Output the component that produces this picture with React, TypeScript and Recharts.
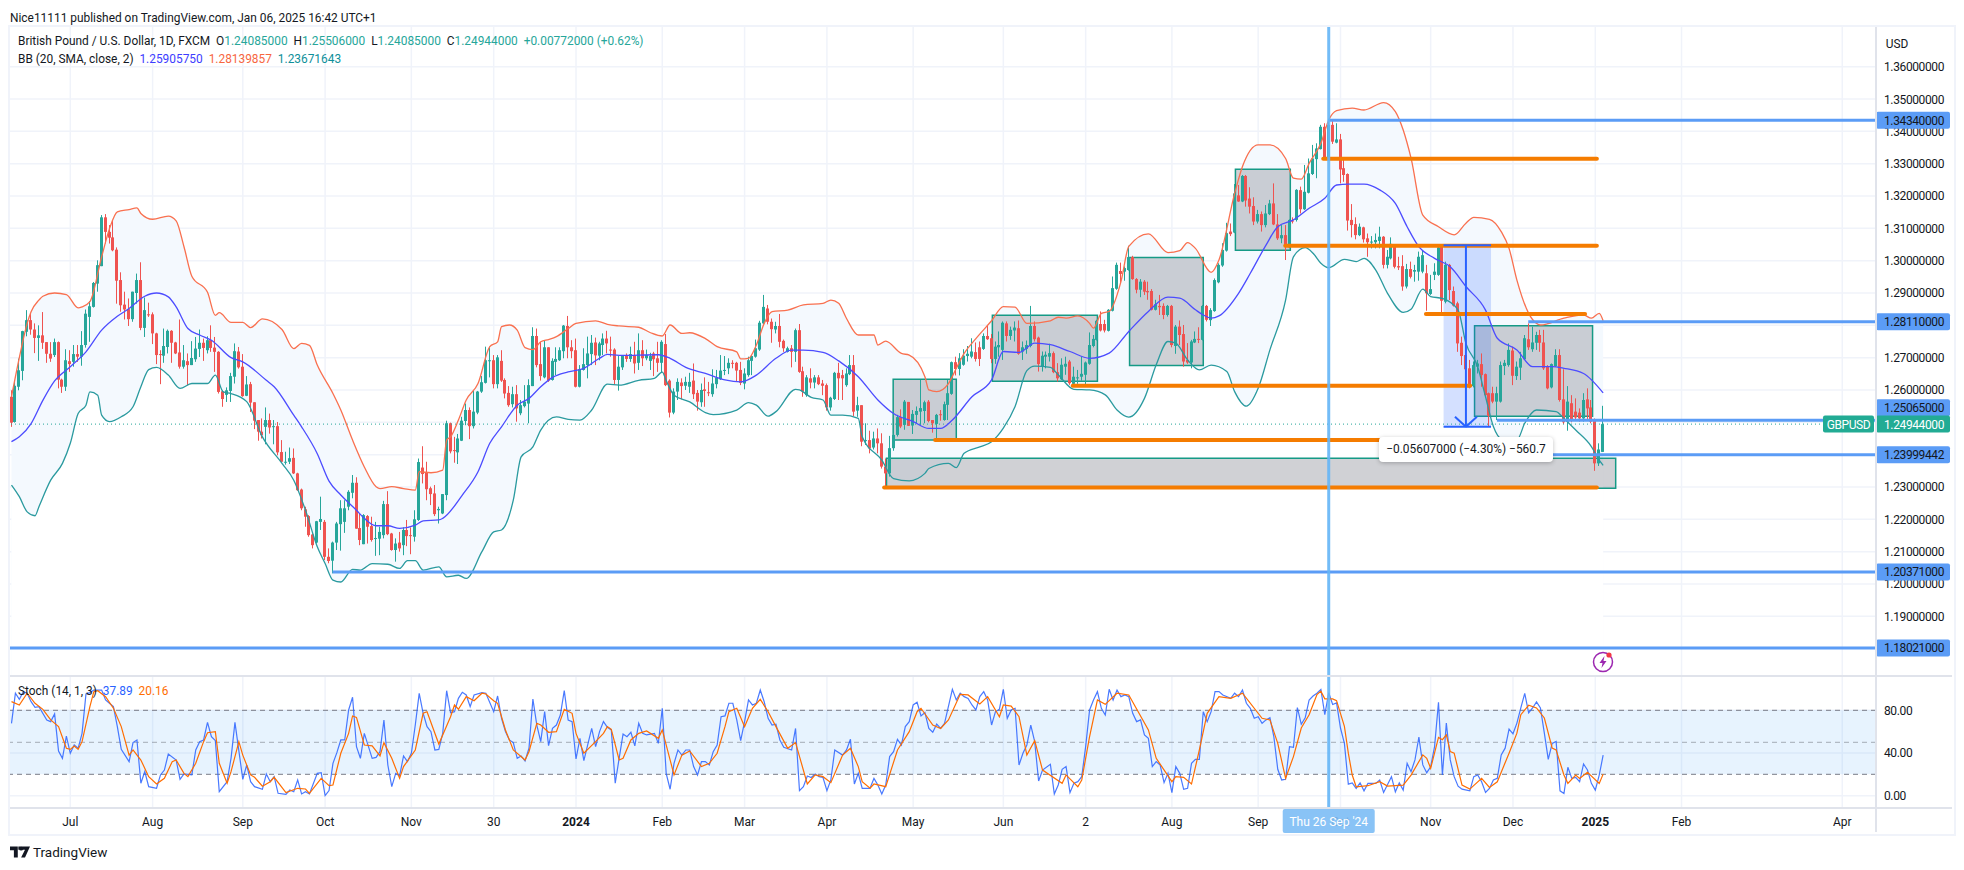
import React from 'react';
import { ComposedChart, Bar, Line, Area, XAxis, YAxis, CartesianGrid, ReferenceLine, ReferenceArea } from 'recharts';

const FONT = 'Roboto, "Noto Sans", sans-serif';
const opens = [
12579,12501,12610,12659,12780,12816,12787,12761,12769,12748,12712,12708,12748,12632,12610,12689,12687,12711,12703,12739,
12826,12857,12929,12983,13134,13089,13072,13034,12940,12864,12850,12819,12900,12940,12792,12834,12834,12775,12711,12706,
12733,12783,12747,12716,12672,12689,12677,12695,12727,12746,12723,12754,12731,12718,12596,12585,12597,12641,12719,12672,
12582,12618,12562,12507,12471,12486,12507,12486,12488,12408,12377,12378,12390,12342,12292,12231,12210,12153,12128,12192,
12192,12084,12072,12128,12185,12192,12239,12282,12313,12173,12123,12210,12179,12140,12140,12151,12247,12156,12105,12128,
12120,12167,12151,12146,12198,12360,12345,12296,12280,12228,12218,12275,12497,12414,12407,12443,12504,12538,12488,12530,
12595,12622,12690,12692,12618,12690,12631,12591,12556,12587,12528,12550,12558,12612,12767,12680,12639,12732,12631,12687,
12692,12720,12798,12732,12723,12610,12662,12677,12711,12747,12706,12739,12759,12725,12725,12631,12670,12705,12696,12708,
12684,12723,12698,12690,12713,12698,12684,12742,12629,12530,12595,12623,12613,12610,12629,12591,12562,12602,12593,12587,
12618,12633,12660,12667,12684,12684,12662,12620,12646,12690,12703,12725,12806,12852,12811,12787,12798,12752,12718,12729,
12718,12785,12658,12584,12636,12623,12639,12620,12615,12546,12572,12653,12646,12615,12649,12677,12536,12553,12443,12445,
12422,12450,12435,12363,12342,12420,12461,12516,12492,12563,12490,12523,12533,12535,12564,12507,12495,12525,12507,12554,
12588,12686,12665,12678,12705,12703,12717,12732,12727,12767,12760,12696,12732,12724,12806,12767,12784,12791,12719,12727,
12736,12798,12762,12672,12703,12703,12714,12655,12633,12672,12688,12619,12638,12641,12647,12681,12736,12755,12804,12804,
12783,12845,12913,12968,12966,12971,13011,12943,12910,12935,12906,12906,12848,12860,12860,12832,12860,12736,12796,12773,
12693,12685,12747,12758,12755,12860,12816,12844,12933,12985,13031,13090,13087,13202,13183,13262,13192,13169,13121,13144,
13110,13144,13177,13112,13069,13079,13041,13124,13126,13218,13159,13210,13268,13314,13345,13414,13316,13420,13365,13375,
13286,13268,13126,13113,13079,13103,13069,13057,13057,13061,13074,12987,13007,13043,12983,12983,12920,12974,12966,12966,
12966,12961,12897,12956,12956,13043,12873,12987,12906,12868,12746,12708,12667,12612,12672,12680,12649,12590,12590,12564,
12564,12674,12677,12722,12643,12669,12695,12757,12726,12746,12770,12747,12672,12608,12674,12708,12571,12502,12559,12533,
12530,12512,12571,12546,12509,12373,12408.5];
const highs = [
12599,12625,12697,12783,12847,12837,12806,12800,12841,12748,12748,12759,12750,12635,12726,12723,12739,12739,12782,12849,
12875,12934,13001,13141,13144,13110,13125,13041,12964,12904,12883,12904,12960,12995,12886,12870,12840,12777,12723,12790,
12787,12785,12749,12818,12739,12713,12751,12764,12787,12759,12766,12800,12764,12720,12599,12608,12653,12744,12733,12711,
12643,12625,12562,12507,12512,12546,12527,12507,12501,12445,12409,12422,12419,12344,12295,12239,12213,12156,12195,12270,
12198,12110,12131,12192,12259,12259,12290,12337,12330,12218,12216,12213,12208,12192,12177,12257,12287,12158,12141,12161,
12175,12198,12175,12228,12388,12426,12378,12301,12306,12239,12278,12505,12499,12455,12464,12517,12558,12546,12597,12597,
12643,12734,12734,12708,12708,12723,12636,12612,12610,12615,12569,12615,12633,12794,12790,12749,12754,12732,12698,12732,
12732,12801,12829,12754,12759,12677,12729,12765,12770,12762,12749,12775,12783,12765,12729,12705,12708,12713,12734,12749,
12775,12754,12725,12715,12718,12749,12754,12773,12633,12605,12636,12636,12641,12653,12682,12600,12620,12639,12625,12664,
12662,12708,12705,12698,12692,12687,12687,12667,12703,12708,12756,12814,12894,12863,12821,12811,12835,12756,12734,12739,
12790,12804,12672,12646,12667,12646,12646,12631,12620,12579,12656,12684,12662,12667,12708,12708,12579,12553,12497,12474,
12471,12481,12466,12388,12458,12466,12523,12540,12569,12563,12538,12549,12631,12567,12569,12507,12526,12538,12564,12631,
12688,12703,12714,12726,12736,12760,12747,12750,12775,12801,12773,12750,12781,12812,12812,12796,12812,12815,12750,12753,
12860,12812,12765,12719,12719,12743,12719,12683,12698,12703,12693,12672,12662,12703,12688,12778,12770,12817,12843,12817,
12850,12951,12994,12994,12982,13046,13015,12946,12943,12940,12935,12912,12879,12894,12868,12863,12863,12801,12815,12801,
12745,12755,12781,12794,12863,12863,12853,12945,12992,13054,13117,13115,13237,13234,13265,13265,13227,13196,13157,13152,
13172,13188,13239,13144,13110,13110,13128,13134,13221,13229,13296,13316,13358,13363,13420,13425,13435,13433,13425,13392,
13316,13270,13175,13134,13115,13105,13084,13076,13084,13105,13076,13033,13072,13045,13012,13017,12990,12997,12987,13028,
13033,12987,12956,12992,13045,13048,12997,12990,12920,12873,12765,12724,12693,12688,12693,12713,12651,12592,12610,12610,
12688,12693,12744,12734,12688,12718,12770,12806,12796,12780,12786,12786,12677,12682,12726,12726,12664,12612,12584,12574,
12543,12590,12605,12569,12512,12435,12551];
const lows = [
12486,12499,12599,12630,12766,12771,12714,12690,12727,12684,12687,12702,12605,12591,12597,12656,12672,12687,12675,12731,
12749,12855,12904,12983,13053,13053,13029,12867,12842,12818,12798,12811,12867,12785,12764,12826,12742,12680,12618,12684,
12713,12684,12711,12666,12666,12615,12677,12687,12702,12690,12713,12718,12656,12589,12548,12563,12563,12620,12666,12579,
12581,12532,12479,12443,12450,12432,12465,12432,12398,12377,12369,12371,12340,12288,12228,12177,12146,12110,12125,12167,
12074,12064,12033,12105,12103,12158,12228,12265,12171,12120,12123,12125,12131,12087,12089,12141,12151,12103,12069,12100,
12089,12117,12092,12131,12195,12311,12259,12244,12210,12187,12216,12259,12404,12375,12371,12442,12491,12448,12481,12525,
12591,12620,12639,12605,12605,12625,12574,12548,12546,12502,12522,12546,12497,12612,12670,12629,12636,12625,12629,12646,
12690,12698,12698,12698,12608,12608,12660,12636,12677,12677,12692,12708,12713,12703,12617,12598,12662,12687,12687,12651,
12662,12674,12692,12662,12643,12656,12654,12612,12515,12525,12569,12571,12600,12591,12572,12536,12548,12548,12581,12579,
12605,12631,12646,12649,12667,12625,12615,12602,12641,12646,12700,12721,12803,12803,12746,12775,12732,12718,12716,12670,
12687,12653,12579,12579,12605,12605,12615,12584,12536,12536,12569,12569,12569,12610,12646,12519,12517,12426,12430,12404,
12416,12404,12357,12295,12332,12412,12456,12482,12477,12489,12464,12497,12492,12497,12500,12468,12446,12505,12505,12507,
12585,12645,12645,12675,12688,12698,12688,12674,12724,12755,12683,12681,12703,12693,12750,12755,12750,12709,12693,12712,
12732,12750,12657,12657,12667,12688,12652,12626,12631,12647,12616,12613,12619,12629,12616,12678,12732,12753,12781,12778,
12781,12843,12910,12928,12938,12969,12941,12899,12887,12894,12879,12846,12846,12832,12819,12827,12732,12712,12739,12672,
12681,12667,12745,12745,12753,12812,12798,12842,12930,12981,13028,13076,13085,13182,13181,13167,13146,13110,13115,13090,
13103,13141,13110,13064,13054,13002,13039,13115,13121,13146,13157,13208,13265,13255,13344,13314,13311,13361,13363,13239,
13244,13093,13072,13066,13076,13056,13012,13038,13038,13038,12976,12976,13004,12976,12971,12907,12914,12945,12935,12938,
12961,12845,12894,12940,12953,12837,12868,12878,12858,12718,12677,12651,12605,12608,12651,12610,12579,12487,12559,12507,
12561,12646,12672,12615,12631,12631,12693,12724,12718,12724,12718,12662,12602,12605,12672,12564,12495,12474,12500,12507,
12502,12502,12507,12497,12350,12365,12408.5];
const closes = [
12499,12613,12661,12782,12816,12787,12761,12769,12746,12712,12697,12748,12632,12610,12692,12680,12711,12703,12739,12836,
12859,12931,12986,13134,13089,13071,13032,12938,12862,12849,12819,12904,12940,12792,12847,12831,12775,12708,12708,12736,
12783,12746,12713,12672,12692,12677,12699,12728,12746,12730,12754,12730,12718,12594,12572,12599,12643,12720,12670,12581,
12617,12561,12505,12471,12460,12507,12484,12488,12407,12378,12378,12389,12342,12290,12234,12208,12151,12120,12194,12201,
12084,12071,12128,12187,12234,12234,12285,12313,12171,12136,12213,12177,12136,12142,12161,12247,12154,12105,12125,12110,
12167,12148,12149,12200,12377,12340,12293,12278,12216,12232,12278,12497,12410,12412,12450,12505,12538,12488,12533,12595,
12624,12692,12692,12618,12701,12629,12589,12553,12587,12543,12553,12564,12615,12767,12677,12643,12732,12629,12690,12696,
12723,12799,12732,12720,12610,12664,12680,12713,12746,12707,12744,12759,12744,12723,12631,12672,12705,12696,12711,12682,
12723,12698,12708,12705,12695,12684,12749,12615,12530,12595,12625,12612,12625,12625,12587,12564,12600,12597,12590,12620,
12638,12660,12662,12684,12682,12660,12622,12651,12692,12705,12729,12808,12857,12811,12788,12798,12749,12729,12729,12718,
12785,12656,12595,12639,12623,12639,12618,12613,12546,12576,12653,12636,12636,12651,12677,12533,12553,12440,12445,12419,
12450,12435,12363,12342,12420,12461,12516,12487,12564,12489,12526,12535,12544,12562,12504,12497,12523,12523,12556,12590,
12686,12665,12698,12706,12712,12719,12696,12696,12767,12757,12696,12734,12739,12808,12767,12786,12793,12712,12732,12739,
12798,12757,12680,12706,12709,12714,12655,12636,12678,12681,12621,12641,12639,12650,12685,12739,12758,12814,12784,12784,
12848,12915,12987,12959,12977,13011,12943,12910,12935,12904,12902,12848,12865,12856,12832,12860,12739,12796,12770,12688,
12685,12750,12758,12755,12860,12817,12847,12940,12987,13033,13085,13082,13208,13183,13262,13186,13167,13121,13144,13110,
13146,13177,13112,13069,13079,13043,13126,13121,13219,13159,13213,13270,13316,13347,13414,13316,13420,13368,13375,13282,
13265,13124,13110,13079,13105,13066,13057,13059,13064,13074,12987,13012,13052,12981,12979,12920,12974,12950,12971,13012,
13017,12899,12912,12966,13041,12876,12987,12909,12861,12744,12705,12664,12608,12677,12682,12646,12584,12520,12564,12590,
12677,12684,12724,12644,12672,12698,12760,12732,12747,12770,12746,12667,12605,12680,12708,12569,12500,12564,12507,12515,
12512,12569,12543,12502,12373,12416,12494.4];

const bbUpper: [number, number][] = [[0,12579],[2,12700],[4,12806],[5,12842],[7,12878],[8,12890],[11,12900],[14,12895],[17,12854],[18,12857],[20,12873],[23,13012],[25,13099],[27,13151],[30,13158],[32,13163],[33,13146],[36,13128],[40,13138],[42,13123],[44,13043],[46,12952],[50,12902],[52,12831],[53,12839],[56,12809],[59,12809],[61,12793],[64,12820],[69,12787],[72,12728],[74,12744],[76,12738],[78,12677],[82,12589],[84,12538],[87,12445],[90,12362],[93,12301],[94,12295],[97,12301],[100,12295],[103,12290],[104,12347],[107,12344],[110,12352],[111,12445],[112,12455],[114,12507],[116,12569],[119,12620],[122,12734],[124,12749],[125,12796],[127,12801],[129,12785],[131,12731],[133,12725],[135,12749],[137,12756],[139,12765],[142,12790],[144,12806],[149,12814],[152,12803],[155,12798],[160,12794],[163,12777],[166,12767],[168,12801],[171,12775],[173,12777],[177,12759],[180,12734],[185,12718],[186,12696],[188,12698],[190,12739],[192,12806],[194,12842],[198,12847],[202,12863],[207,12868],[209,12878],[211,12868],[213,12821],[216,12770],[220,12770],[221,12739],[223,12751],[227,12713],[229,12708],[233,12641],[234,12600],[236,12595],[239,12620],[241,12667],[243,12713],[246,12759],[250,12814],[253,12858],[256,12856],[259,12806],[265,12814],[267,12825],[269,12822],[272,12829],[275,12806],[276,12791],[278,12837],[280,12843],[283,12935],[285,13044],[290,13083],[295,13025],[298,13031],[300,13056],[302,13038],[306,12964],[308,13002],[312,13208],[314,13291],[318,13358],[321,13358],[325,13316],[327,13255],[329,13252],[331,13301],[334,13363],[336,13435],[338,13464],[342,13472],[345,13466],[350,13489],[353,13461],[355,13404],[357,13317],[360,13141],[364,13105],[368,13080],[371,13116],[373,13134],[377,13128],[380,13090],[382,13038],[384,12940],[387,12837],[389,12806],[390,12801],[396,12822],[401,12832],[403,12822],[405,12837],[406,12814]];
const bbMid: [number, number][] = [[0,12440],[2,12455],[5,12496],[8,12568],[11,12628],[15,12672],[19,12718],[23,12785],[27,12828],[30,12852],[34,12890],[37,12900],[40,12888],[42,12857],[45,12790],[48,12770],[51,12754],[56,12700],[59,12687],[65,12630],[67,12610],[72,12522],[74,12486],[78,12403],[81,12318],[84,12275],[88,12228],[90,12203],[93,12180],[96,12180],[99,12172],[103,12182],[105,12195],[109,12198],[110,12203],[115,12275],[119,12347],[122,12435],[125,12486],[129,12553],[132,12574],[135,12610],[138,12639],[142,12656],[146,12667],[150,12698],[152,12710],[155,12707],[165,12709],[168,12698],[172,12670],[177,12651],[182,12631],[186,12625],[190,12646],[195,12698],[199,12723],[202,12723],[207,12716],[211,12690],[216,12641],[221,12569],[225,12527],[230,12502],[234,12481],[237,12481],[240,12507],[245,12579],[250,12631],[253,12719],[257,12716],[261,12745],[265,12740],[270,12719],[275,12698],[280,12714],[285,12781],[290,12843],[295,12887],[298,12884],[302,12848],[304,12832],[306,12822],[308,12829],[313,12899],[316,12961],[320,13048],[323,13105],[327,13126],[331,13162],[335,13193],[338,13234],[341,13237],[345,13237],[349,13219],[353,13177],[356,13105],[359,13043],[363,13007],[367,12981],[371,12920],[376,12847],[379,12760],[384,12724],[388,12672],[393,12672],[396,12667],[401,12651],[406,12591]];
const bbLower: [number, number][] = [[0,12306],[2,12270],[4,12223],[6,12211],[7,12239],[10,12321],[13,12373],[15,12435],[17,12527],[19,12553],[20,12594],[22,12584],[23,12522],[25,12502],[28,12517],[31,12548],[33,12610],[35,12663],[37,12670],[40,12646],[43,12605],[46,12620],[50,12620],[52,12646],[54,12594],[56,12589],[60,12564],[64,12455],[69,12373],[72,12321],[75,12228],[78,12115],[80,12063],[82,12012],[84,12006],[87,12045],[89,12043],[92,12063],[96,12061],[99,12048],[101,12072],[103,12072],[105,12043],[109,12053],[111,12022],[114,12027],[116,12017],[120,12100],[123,12161],[125,12167],[128,12259],[130,12393],[133,12424],[135,12476],[139,12517],[142,12509],[145,12507],[148,12538],[152,12618],[155,12615],[160,12630],[164,12636],[166,12655],[167,12629],[169,12584],[173,12563],[177,12530],[179,12524],[185,12538],[188,12561],[190,12553],[193,12519],[195,12533],[200,12602],[201,12600],[204,12577],[207,12569],[209,12522],[212,12522],[216,12512],[217,12455],[222,12383],[225,12326],[229,12319],[233,12342],[234,12357],[239,12373],[241,12360],[243,12404],[247,12424],[250,12440],[253,12482],[256,12549],[259,12660],[261,12674],[265,12670],[267,12647],[271,12602],[275,12600],[279,12585],[282,12538],[285,12516],[289,12574],[292,12678],[295,12750],[297,12745],[300,12693],[303,12662],[306,12677],[310,12657],[312,12595],[315,12550],[318,12605],[321,12724],[325,12878],[327,13012],[330,13040],[332,13023],[334,12992],[336,12978],[340,13004],[343,12997],[345,13007],[348,12971],[351,12899],[355,12840],[357,12850],[360,12912],[362,12889],[365,12883],[369,12847],[371,12744],[374,12672],[376,12579],[378,12487],[380,12450],[384,12445],[386,12497],[389,12538],[394,12533],[396,12512],[399,12476],[403,12425],[405,12383],[406,12367]];

const stochK: [number, number][] = [[0,67.8],[1,96],[2,90.3],[3,97.5],[4,96],[5,88.1],[6,82.8],[7,83.4],[9,70.9],[10,69.4],[11,76.6],[12,41.9],[13,35],[14,55.9],[15,39.7],[16,47.5],[17,44.4],[18,58.4],[19,95.3],[20,96.6],[21,99],[23,99],[24,89.7],[26,83.4],[27,64.7],[28,43.4],[30,31.9],[31,49.7],[32,52.2],[33,11.6],[34,22.5],[35,8.4],[37,6.9],[38,19.4],[39,24],[40,39],[42,33.4],[43,15.3],[44,20.3],[46,19.4],[47,42.8],[48,50.6],[49,52.2],[50,68.7],[51,55.3],[52,51.6],[53,3.7],[55,13.1],[56,35],[57,68.7],[59,15.3],[60,28.7],[61,13.1],[62,8.4],[64,5.9],[65,20.3],[66,13.1],[67,17.8],[68,2.2],[70,1.2],[71,5.3],[72,3.7],[73,14.7],[74,1.6],[75,3.7],[76,1.6],[78,20.9],[79,21.6],[80,0],[81,4.7],[82,30.3],[83,40.3],[84,52.2],[85,52.2],[86,80.3],[87,92.2],[88,45.9],[89,35],[90,58.4],[92,35],[93,35.9],[94,41.2],[95,70.9],[96,28.7],[97,8.4],[98,20.9],[99,18.4],[100,37.2],[101,31.9],[102,39.7],[103,66.2],[104,95.9],[105,77.2],[106,64.7],[107,60],[108,42.8],[109,43.4],[110,58.4],[111,98.4],[112,77.8],[113,78.7],[114,91.2],[115,96.9],[116,94.4],[117,83.4],[118,94.4],[120,96.6],[121,96],[123,78.7],[124,93.4],[125,72.5],[126,60],[127,52.2],[128,49.7],[129,35],[130,37.2],[131,32.5],[132,44.4],[133,90.6],[134,66.2],[135,50.6],[136,78.7],[137,46.9],[138,63.1],[139,66.2],[140,75.6],[141,98.4],[142,70.9],[143,69.4],[144,34.4],[145,53.7],[146,32.8],[148,63.1],[149,45.9],[150,60],[151,69.4],[152,64],[153,61.6],[154,11.6],[155,35],[156,57.8],[157,55.3],[158,59.4],[159,46.6],[160,67.8],[161,58.4],[162,56.9],[164,58.4],[165,49],
[166,81.9],[167,20.9],[168,6],[169,30.3],[170,42.8],[171,38],[172,42.8],[173,42.8],[174,27.2],[175,19.4],[176,31.9],[177,31.9],[178,28.7],[179,41.2],[180,47.5],[181,74],[182,74.7],[183,86.6],[184,86.6],[185,71],[186,51.6],[187,69.4],[188,89.7],[189,85],[190,86.6],[191,99],[192,88],[193,72.5],[194,66.2],[195,67],[196,52.2],[197,45.3],[199,42.8],[200,63],[201,4.7],[202,8.4],[203,18.4],[204,17],[205,20.3],[206,17.8],[207,17],[208,4.7],[209,14.7],[210,42.8],[212,38],[213,42.8],[214,52.8],[215,10.9],[216,20.9],[217,6.9],[219,6.9],[220,16.2],[221,10],[222,1.6],[223,10],[224,36.6],[225,41.2],[226,52.8],[227,47.5],[228,64.7],[229,69.4],[230,85],[231,87.5],[232,74.7],[233,77.8],[234,63],[235,59.4],[236,67],[237,63],[238,67.8],[240,99.7],[241,89.7],[242,96],[243,92.8],[244,91.2],[245,85],[246,80.3],[247,92.8],[248,97.5],[249,89.7],[250,66.2],[251,78.7],[252,81],[253,99.7],[254,72.5],[255,80.3],[256,81.9],[257,28.7],[258,39.7],[259,47.5],[260,66.2],[261,50.6],[262,13.7],[263,24],[265,29.4],[266,1.6],[267,10],[268,24.7],[269,27.2],[270,2.8],[271,11.6],[272,13.1],[273,17.8],[274,45.9],[275,80.3],[276,89.7],[277,97.5],[278,81.9],[279,75.6],[280,99.7],[281,89.7],[282,99],[283,92.8],[284,94.4],[285,92.8],[286,77.2],[287,69.4],[288,71],[289,56.9],[290,53.7],[291,27.2],[292,31.9],[293,28.7],[294,12.2],[295,20.9],[296,2.8],[297,27.2],[298,20.9],[299,5.9],[300,6.9],[301,30.3],[302,34],[303,34],[304,78.7],[305,69.4],[306,78.7],[307,97.5],[308,97.5],[309,94.4],[311,91.2],[312,96],[313,92.8],[314,99],[315,86.6],[316,81.9],[317,72.5],[318,74],[319,67.8],[320,71],[321,73],[322,55.3],[323,24.7],[324,14.7],[325,15.3],[326,45.9],[327,45.3],[328,82.5],[329,66.9],[330,73],[331,89.7],[332,93.4],[333,96],[334,99.5],[335,76],[336,96.4],[337,85.4],[338,87],[339,63.4],[340,49],[341,10.8],[342,12],[343,6.8],[344,12],[345,4.5],[346,11.5],[348,11.5],[349,14.6],[350,3],[352,17.8],[353,3.6],[354,12],[355,5.2],[356,30.3],[357,22.5],[358,33.5],[359,54.9],[360,28.8],[361,21.5],[362,27],[363,46],[364,87.6],[365,19.3],[366,68],[367,33.5],[368,17.8],[369,8.9],[370,6.1],[372,4.5],[373,17.8],[374,19.3],[375,13],[376,3],[377,6.8],[378,14.6],[379,16.2],[380,38.2],[381,44.5],[382,62.4],[383,58],[384,68],[385,82.2],[386,95.8],[387,77.5],[388,82.2],[389,87.9],[390,82.2],[391,58.6],[392,34],[393,49],[394,50.8],[395,4.5],[396,2],[397,26.6],[398,16.2],[399,17.1],[400,13],[401,29.7],[402,24],[403,11.5],[404,5.2],[405,19.3],[406,37.89]];
const stochD: [number, number][] = [[0,88.1],[2,85],[4,96],[6,86.6],[8,80.9],[10,71],[12,64.7],[14,44.4],[15,43.4],[16,46.6],[17,43.4],[18,50.6],[20,83.4],[21,97.5],[22,98.4],[24,92.8],[26,81.9],[28,64.7],[30,38],[31,42.8],[33,33.4],[35,17.8],[37,10.9],[39,16.2],[41,31.9],[42,33.4],[44,20.9],[45,17.8],[47,30.3],[49,50.6],[50,59],[52,60],[53,30.3],[55,11.6],[56,22.5],[58,50.6],[59,38],[61,19.4],[62,17.2],[64,8.9],[66,13.1],[67,17.2],[70,2.8],[73,6.9],[75,6.2],[76,2.2],[79,16.2],[81,9.4],[82,10],[84,39.7],[86,58.4],[87,74.7],[88,73.4],[90,47.5],[92,46.6],[94,37.2],[95,49.7],[97,35],[99,16.2],[100,27.2],[103,42.8],[105,77.2],[106,78.7],[109,48.4],[112,74],[113,85],[114,81],[116,92.8],[118,89],[120,96],[121,95.3],[123,89],[124,86.6],[126,61.6],[128,42.8],[131,33.4],[132,41.2],[134,67.8],[135,66.2],[137,59.4],[139,60],[141,81],[143,77.2],[144,58.4],[146,39.7],[149,50.6],[151,58.4],[152,64.7],[153,62.2],[155,33.4],[156,35],[158,52.2],[160,58.4],[162,60.6],[165,53.7],[166,61.6],[169,19.4],[171,38],[173,41.9],[176,27.2],[178,30.3],[180,39.7],[182,64.7],[183,78.7],[185,81.9],[187,64.7],[189,81.9],[191,90.3],[193,78.7],[195,64.7],[198,44.4],[200,49.7],[203,10.9],[205,19.4],[207,17.8],[209,12.2],[212,38],[214,44.4],[216,27.2],[217,13.1],[219,6.9],[220,10.9],[223,8.4],[226,42.8],[229,60],[231,78.7],[232,81.9],[235,66.2],[237,63],[239,70.9],[242,95],[244,94.4],[247,85.9],[249,92.8],[252,74],[253,85],[255,84],[257,74],[259,38],[261,51.5],[263,24],[268,11.6],[269,19.4],[272,8.4],[273,14.7],[275,55.3],[277,89.7],[279,85.6],[282,96],[285,94.4],[290,61.6],[292,35],[296,13.1],[297,17.8],[299,17.2],[301,10.9],[303,42.8],[305,77.2],[308,92.8],[311,91.2],[314,96],[319,72.5],[321,71],[323,49],[325,16.2],[327,36.6],[329,63.4],[331,75.9],[333,94.8],[334,98],[335,90.7],[337,90.7],[338,89.1],[340,64.9],[341,39.8],[342,19.3],[343,8.3],[346,9.3],[349,13],[351,9],[355,9.9],[357,19.3],[360,38.2],[361,35],[362,25.6],[364,54.6],[365,52.4],[366,57],[367,41.3],[368,39.8],[370,9.9],[372,6.1],[375,16.2],[377,7.7],[379,13],[382,39.8],[384,58.6],[385,75.9],[387,84.7],[389,82.2],[391,72.8],[393,44.5],[394,42.9],[396,19.3],[397,11.5],[399,19.3],[400,16.2],[402,21.8],[405,11.5],[406,20.16]];

const priceTicks = [1.19,1.2,1.21,1.22,1.23,1.24,1.25,1.26,1.27,1.28,1.29,1.3,1.31,1.32,1.33,1.34,1.35,1.36];
const blueLevels = [1.3434,1.2811,1.25065,1.23999442,1.20371,1.18021];
const lastPrice = 1.24944;
const stochTicks = [0,40,80];
const timeTicks = [15,36,59,80,102,123,144,166,187,208,230,253,274,296,318,339,362,383,404,426,467];
const timeLabels = ['Jul','Aug','Sep','Oct','Nov','30','2024','Feb','Mar','Apr','May','Jun','2','Aug','Sep','Oct','Nov','Dec','2025','Feb','Apr'];
const crosshairBar = 336;
const crosshairLabel = "Thu 26 Sep '24";

// drawings: [fromBar, toBar, priceA, priceB]
const boxes = [[224.9,241,1.2633,1.2445],[250.2,277,1.2831,1.2627],[285.2,304,1.301,1.2676],[312.2,326.2,1.3283,1.3032],[373.2,403.3,1.2799,1.2519],[223.2,409.2,1.2389,1.2296]];
const orangeSegs = [[222.6,404.4,1.2298],[235.6,348.9,1.2445],[270.7,372.1,1.2613],[324.9,404.4,1.3046],[334.6,404.4,1.3315],[360.8,401.4,1.2835]];
const XMIN = -0.38, XMAX = 475.6;
const YMIN = 1.17184, YMAX = 1.37227;
const blueSegs = [[335.8,XMAX,1.3434],[386.9,XMAX,1.2811],[378.9,XMAX,1.25065],[393.2,XMAX,1.23999442],[81.9,XMAX,1.20371],[XMIN,XMAX,1.18021]];
const measure = { x1: 365.3, x2: 377.4, mid: 371, top: 1.3048, bottom: 1.2486 };

const rows = closes.map((c, i) => ({ i, o: opens[i] / 1e4, h: highs[i] / 1e4, l: lows[i] / 1e4, c: c / 1e4, range: [lows[i] / 1e4, highs[i] / 1e4] }));
const toPrice = (a: [number, number][]) => a.map(([i, v]) => ({ i, y: v / 1e4 }));
const toStoch = (a: [number, number][]) => a.map(([i, v]) => ({ i, y: v }));

const UP = '#26a69a', DOWN = '#ef5350', BLUE = '#5b9cf6', ORANGE = '#f57c00', BOXLINE = '#159a86', GRID = '#f0f3fa';
const AXIS_SIZE = 12, AXIS_SPACING = -0.38;

const Candle = (p: any) => {
  const { x, y, width, height, payload } = p;
  if (y == null || !payload) return null;
  const span = payload.h - payload.l || 1e-6;
  const top = Math.max(payload.o, payload.c), bot = Math.min(payload.o, payload.c);
  const by = y + ((payload.h - top) / span) * height;
  const bh = Math.max(1, ((top - bot) / span) * height);
  const col = payload.c >= payload.o ? UP : DOWN;
  const cx = x + width / 2;
  const x0 = Math.round(cx - 1.5);
  return (
    <g>
      <rect x={x0 + 1} y={y} width={1} height={Math.max(1, height)} fill={col} />
      <rect x={x0} y={by} width={3} height={bh} fill={col} />
    </g>
  );
};

const PriceTick = (p: any) => {
  const { y: yRaw, payload } = p;
  const v = payload.value;
  const label = v.toFixed(8);
  const isBlue = blueLevels.includes(v);
  const isLast = v === lastPrice;
  // the 1.25065 badge is pushed up so that it clears the last-price badge
  const y = v === 1.25065 ? yRaw - 12.5 : yRaw;
  if (isBlue || isLast) {
    return (
      <g>
        {isLast && <rect x={1823} y={y - 8.5} width={51} height={17} rx={2} fill="#22ab94" />}
        {isLast && <text x={1848.5} y={y + 4.5} textAnchor="middle" fontSize={AXIS_SIZE} letterSpacing={AXIS_SPACING} fontFamily={FONT} fill="#fff">GBPUSD</text>}
        <rect x={1876} y={y - 8.5} width={74} height={17} rx={2} fill={isLast ? '#22ab94' : BLUE} />
        <text x={1884} y={y + 4.5} fontSize={AXIS_SIZE} letterSpacing={AXIS_SPACING} fontFamily={FONT} fill={isLast ? '#fff' : '#131722'}>{label}</text>
      </g>
    );
  }
  return <text x={1884} y={y + 4.5} fontSize={AXIS_SIZE} letterSpacing={AXIS_SPACING} fontFamily={FONT} fill="#131722">{label}</text>;
};

const StochTick = (p: any) => (
  <text x={1884} y={p.y + 4.5} fontSize={AXIS_SIZE} letterSpacing={AXIS_SPACING} fontFamily={FONT} fill="#131722">{p.payload.value.toFixed(2)}</text>
);

const TimeTick = (p: any) => {
  const { x, y, payload } = p;
  const v = payload.value;
  if (v === crosshairBar) {
    return (
      <g>
        <rect x={x - 46} y={y - 4} width={92} height={24} rx={2} fill="#7cbcf5" fillOpacity={0.9} />
        <text x={x} y={y + 12.5} textAnchor="middle" fontSize={12} fontFamily={FONT} fill="#fff">{crosshairLabel}</text>
      </g>
    );
  }
  const label = timeLabels[timeTicks.indexOf(v)];
  const bold = label === '2024' || label === '2025';
  return <text x={x} y={y + 12.5} textAnchor="middle" fontSize={12} fontWeight={bold ? 700 : 400} fontFamily={FONT} fill="#131722">{label}</text>;
};

const txt: React.CSSProperties = { position: 'absolute', fontFamily: FONT, fontSize: 11.9, whiteSpace: 'nowrap', color: '#131722', lineHeight: '16px' };
const grn = '#26a69a';

export default function App() {
  return (
    <div style={{ position: 'fixed', left: 0, top: 0, width: 1964, height: 870, background: '#fff', overflow: 'hidden' }}>
      <div style={{ ...txt, left: 10, top: 10 }}>Nice11111 published on TradingView.com, Jan 06, 2025 16:42 UTC+1</div>
      <div style={{ position: 'absolute', left: 0, top: 0 }}>
        <ComposedChart width={1964} height={675} margin={{ top: 27, right: 0, bottom: 0, left: 10 }} data={rows}>
          <XAxis dataKey="i" type="number" domain={[XMIN, XMAX]} ticks={timeTicks} allowDataOverflow hide />
          <YAxis orientation="right" width={88} type="number" domain={[YMIN, YMAX]} allowDataOverflow interval={0}
            ticks={[...priceTicks, ...blueLevels, lastPrice]} axisLine={false} tickLine={false} tick={<PriceTick />} />
          <Area data={toPrice(bbUpper)} dataKey="y" type="monotone" stroke="none" fill="#f4f9fe" fillOpacity={1} baseValue={YMIN} isAnimationActive={false} dot={false} activeDot={false} />
          <Area data={toPrice(bbLower)} dataKey="y" type="monotone" stroke="none" fill="#ffffff" fillOpacity={1} baseValue={YMIN} isAnimationActive={false} dot={false} activeDot={false} />
          <CartesianGrid stroke={GRID} strokeWidth={1.5} horizontalValues={priceTicks} verticalValues={timeTicks} />
          <ReferenceLine y={lastPrice} stroke="#26a69a" strokeWidth={1} strokeDasharray="1 3" />
          <Line data={toPrice(bbUpper)} dataKey="y" type="monotone" stroke="#f9704f" strokeWidth={1.3} dot={false} isAnimationActive={false} />
          <Line data={toPrice(bbMid)} dataKey="y" type="monotone" stroke="#4c4cff" strokeWidth={1.3} dot={false} isAnimationActive={false} />
          <Line data={toPrice(bbLower)} dataKey="y" type="monotone" stroke="#2a9a9f" strokeWidth={1.3} dot={false} isAnimationActive={false} />
          <Bar dataKey="range" barSize={3} shape={<Candle />} isAnimationActive={false} />
          {orangeSegs.map((s, k) => (
            <ReferenceLine key={'o' + k} segment={[{ x: s[0], y: s[2] }, { x: s[1], y: s[2] }]} stroke={ORANGE} strokeWidth={4} strokeLinecap="round" />
          ))}
          {boxes.map((b, k) => (
            <ReferenceArea key={'b' + k} x1={b[0]} x2={b[1]} y1={b[2]} y2={b[3]} fill="#787b86" fillOpacity={0.35} stroke={BOXLINE} strokeWidth={1.5} />
          ))}
          <ReferenceArea x1={measure.x1} x2={measure.x2} y1={measure.top} y2={measure.bottom} fill="#2962ff" fillOpacity={0.2} stroke="none" />
          <ReferenceLine segment={[{ x: measure.x1, y: measure.top }, { x: measure.x2, y: measure.top }]} stroke="#2962ff" strokeWidth={2} />
          <ReferenceLine segment={[{ x: measure.x1, y: measure.bottom }, { x: measure.x2, y: measure.bottom }]} stroke="#2962ff" strokeWidth={2} />
          <ReferenceLine segment={[{ x: measure.mid, y: measure.top }, { x: measure.mid, y: measure.bottom }]} stroke="#2962ff" strokeWidth={2} />
          <ReferenceLine segment={[{ x: measure.mid - 2.8, y: 1.2517 }, { x: measure.mid, y: measure.bottom }]} stroke="#2962ff" strokeWidth={2} />
          <ReferenceLine segment={[{ x: measure.mid + 2.8, y: 1.2517 }, { x: measure.mid, y: measure.bottom }]} stroke="#2962ff" strokeWidth={2} />
          {blueSegs.map((s, k) => (
            <ReferenceLine key={'l' + k} segment={[{ x: s[0], y: s[2] }, { x: s[1], y: s[2] }]} stroke={BLUE} strokeWidth={3} />
          ))}
          <ReferenceLine x={crosshairBar} stroke="#64b5f6" strokeWidth={3} strokeOpacity={0.9} />
        </ComposedChart>
      </div>
      <div style={{ position: 'absolute', left: 0, top: 675 }}>
        <ComposedChart width={1964} height={159} margin={{ top: 0, right: 0, bottom: 0, left: 10 }}>
          <XAxis dataKey="i" type="number" domain={[XMIN, XMAX]} ticks={[...timeTicks, crosshairBar]} interval={0} allowDataOverflow height={27} axisLine={false} tickLine={false} tick={<TimeTick />} tickMargin={0} />
          <YAxis orientation="right" width={88} type="number" domain={[-10.65, 113.1]} allowDataOverflow ticks={stochTicks} interval={0} axisLine={false} tickLine={false} tick={<StochTick />} />
          <CartesianGrid stroke={GRID} strokeWidth={1.5} horizontalValues={stochTicks} verticalValues={timeTicks} />
          <ReferenceArea y1={20} y2={80} fill="#2196f3" fillOpacity={0.11} stroke="none" />
          <ReferenceLine y={80} stroke="#787b86" strokeDasharray="5 4" />
          <ReferenceLine y={50} stroke="#787b86" strokeOpacity={0.6} strokeDasharray="5 4" />
          <ReferenceLine y={20} stroke="#787b86" strokeDasharray="5 4" />
          <Line data={toStoch(stochK)} dataKey="y" type="linear" stroke="#2962ff" strokeOpacity={0.85} strokeWidth={1.2} dot={false} isAnimationActive={false} />
          <Line data={toStoch(stochD)} dataKey="y" type="linear" stroke="#ff6d00" strokeWidth={1.2} dot={false} isAnimationActive={false} />
          <ReferenceLine x={crosshairBar} stroke="#64b5f6" strokeWidth={3} strokeOpacity={0.9} />
        </ComposedChart>
      </div>

      {/* frame */}
      <div style={{ position: 'absolute', left: 8, top: 25, width: 1944, height: 807, border: '2px solid #f0f3fa', pointerEvents: 'none' }} />
      <div style={{ position: 'absolute', left: 1875, top: 27, width: 1.5, height: 805, background: '#e0e3eb' }} />
      <div style={{ position: 'absolute', left: 10, top: 675, width: 1942, height: 1.5, background: '#e0e3eb' }} />
      <div style={{ position: 'absolute', left: 10, top: 807, width: 1942, height: 1.5, background: '#e0e3eb' }} />

      {/* legends */}
      <div style={{ ...txt, left: 18, top: 33 }}>
        British Pound / U.S. Dollar, 1D, FXCM&nbsp; O<span style={{ color: grn }}>1.24085000</span>&nbsp; H<span style={{ color: grn }}>1.25506000</span>&nbsp; L<span style={{ color: grn }}>1.24085000</span>&nbsp; C<span style={{ color: grn }}>1.24944000</span>&nbsp; <span style={{ color: grn }}>+0.00772000 (+0.62%)</span>
      </div>
      <div style={{ ...txt, left: 18, top: 51 }}>
        BB (20, SMA, close, 2)&nbsp; <span style={{ color: '#3d3dff' }}>1.25905750</span>&nbsp; <span style={{ color: '#f7663f' }}>1.28139857</span>&nbsp; <span style={{ color: '#0e8f9a' }}>1.23671643</span>
      </div>
      <div style={{ ...txt, left: 18, top: 683 }}>
        Stoch (14, 1, 3)&nbsp; <span style={{ color: '#2962ff' }}>37.89</span>&nbsp; <span style={{ color: '#ff6d00' }}>20.16</span>
      </div>
      <div style={{ ...txt, left: 1885, top: 36, width: 24, textAlign: 'center' }}>USD</div>

      {/* measure tooltip */}
      <div style={{ ...txt, left: 1379, top: 437, width: 174, height: 25, lineHeight: '25px', textAlign: 'center', background: '#fff', borderRadius: 4, boxShadow: '0 1px 4px rgba(0,0,0,0.25)' }}>−0.05607000 (−4.30%) −560.7</div>

      {/* earnings mark */}
      <svg style={{ position: 'absolute', left: 1591, top: 650 }} width={24} height={24} viewBox="0 0 24 24">
        <circle cx={12} cy={12} r={9.5} fill="#fff" stroke="#9c27b0" strokeWidth={1.5} />
        <path d="M13.5 6 L8.5 13 L11.5 13 L10.5 18 L15.5 11 L12.5 11 Z" fill="#9c27b0" />
        <circle cx={18} cy={5} r={2.6} fill="#f23645" />
      </svg>

      {/* footer */}
      <svg style={{ position: 'absolute', left: 10, top: 846 }} width={20} height={12} viewBox="0 0 36 20">
        <path d="M0 0H14V20H7V7H0Z M15 0 H36 L27 20 H20 L27 6 H15Z" fill="#131722" />
        <circle cx={20} cy={4} r={3.5} fill="#131722" />
      </svg>
      <div style={{ ...txt, left: 33, top: 844, fontSize: 13.5 }}>TradingView</div>
    </div>
  );
}
